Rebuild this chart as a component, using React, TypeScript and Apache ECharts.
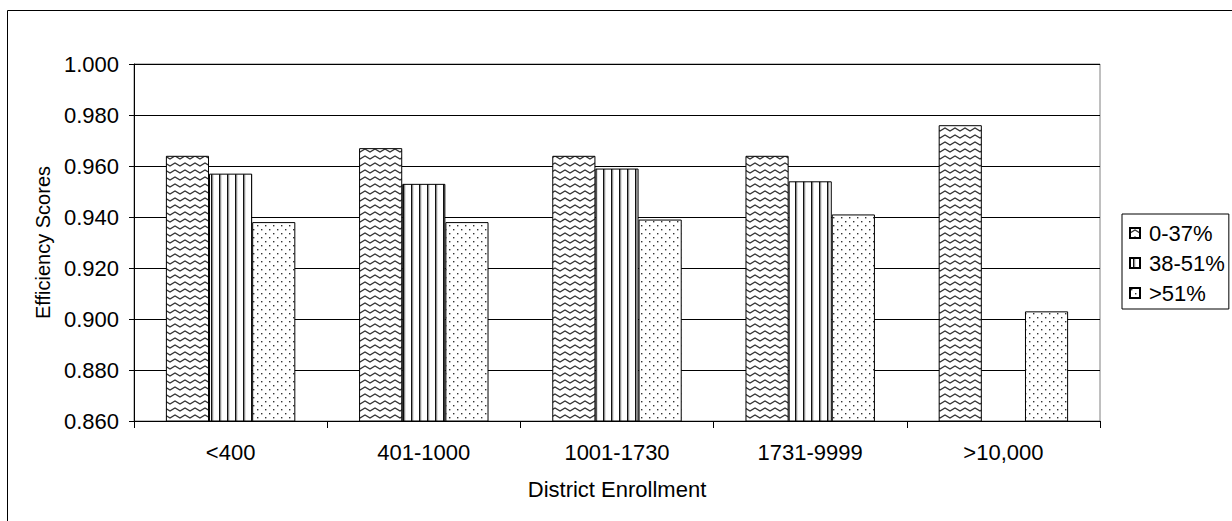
import React, { useEffect, useRef } from "react";
import * as echarts from "echarts";

const categories = ["<400", "401-1000", "1001-1730", "1731-9999", ">10,000"];
const seriesNames = ["0-37%", "38-51%", ">51%"];
const low = [0.964, 0.967, 0.964, 0.964, 0.976];
const mid: (number | null)[] = [0.957, 0.953, 0.959, 0.954, null];
const high = [0.938, 0.938, 0.939, 0.941, 0.903];
const yTicks = { min: 0.86, max: 1.0, interval: 0.02 };

const FONT = "'Liberation Sans', Arial, sans-serif";

function makeTile(w: number, h: number, draw: (ctx: CanvasRenderingContext2D) => void) {
  const c = document.createElement("canvas");
  c.width = w;
  c.height = h;
  const ctx = c.getContext("2d")!;
  ctx.fillStyle = "#ffffff";
  ctx.fillRect(0, 0, w, h);
  draw(ctx);
  return c;
}

function zigzag() {
  return makeTile(10, 7, (ctx) => {
    ctx.strokeStyle = "#333";
    ctx.lineWidth = 1.4;
    ctx.beginPath();
    ctx.moveTo(-5, 2);
    ctx.lineTo(0, 5);
    ctx.lineTo(5, 2);
    ctx.lineTo(10, 5);
    ctx.lineTo(15, 2);
    ctx.stroke();
  });
}

function stripes() {
  return makeTile(8, 8, (ctx) => {
    ctx.fillStyle = "#111";
    ctx.fillRect(3, 0, 1.5, 8);
    ctx.fillStyle = "#999";
    ctx.fillRect(4.5, 0, 0.8, 8);
  });
}

function dots() {
  return makeTile(8, 8, (ctx) => {
    ctx.fillStyle = "#333";
    ctx.fillRect(1, 1, 1.4, 1.4);
    ctx.fillRect(5, 5, 1.4, 1.4);
  });
}

export default function App() {
  const ref = useRef<HTMLDivElement>(null);
  useEffect(() => {
    if (!ref.current) return;
    const chart = echarts.init(ref.current, null, { renderer: "svg" });
    const patterns = [zigzag(), stripes(), dots()];
    const dataSets = [low, mid, high];
    const series = seriesNames.map((name, i) => ({
      name,
      type: "bar" as const,
      data: dataSets[i].map((v) => (v === null ? "-" : v)),
      barGap: "0%",
      barCategoryGap: "33%",
      itemStyle: {
        color: { image: patterns[i], repeat: "repeat" },
        borderColor: "#000",
        borderWidth: 1,
      },
    }));
    chart.setOption({
      animation: false,
      textStyle: { fontFamily: FONT, color: "#000" },
      graphic: [
        {
          type: "rect",
          shape: { x: 7.5, y: 10.5, width: 1300, height: 600 },
          style: { fill: "none", stroke: "#000", lineWidth: 1 },
          silent: true,
        },
      ],
      grid: {
        left: 134,
        top: 64,
        width: 966,
        height: 357,
        show: true,
        borderColor: "#808080",
        borderWidth: 1,
        backgroundColor: "transparent",
      },
      legend: {
        orient: "vertical",
        left: 1122,
        top: 214,
        padding: [8, 4, 5, 7],
        itemGap: 8,
        itemWidth: 10,
        itemHeight: 10,
        borderColor: "#000",
        borderWidth: 1,
        textStyle: { fontFamily: FONT, fontSize: 22, color: "#000", padding: [0, 0, 0, 4] },
        data: seriesNames.map((n) => ({ name: n, icon: "rect" })),
      },
      xAxis: {
        type: "category",
        data: categories,
        name: "District Enrollment",
        nameLocation: "middle",
        nameGap: 57,
        nameTextStyle: { fontFamily: FONT, fontSize: 22, color: "#000" },
        axisLine: { lineStyle: { color: "#000", width: 1 } },
        axisTick: { show: true, length: 7, lineStyle: { color: "#000" } },
        axisLabel: { fontFamily: FONT, fontSize: 22, color: "#000", margin: 20 },
        splitLine: { show: false },
      },
      yAxis: {
        type: "value",
        min: yTicks.min,
        max: yTicks.max,
        interval: yTicks.interval,
        name: "Efficiency Scores",
        nameLocation: "middle",
        nameGap: 78,
        nameRotate: 90,
        nameTextStyle: { fontFamily: FONT, fontSize: 20, color: "#000" },
        axisLine: { show: true, lineStyle: { color: "#000", width: 1 } },
        axisTick: { show: true, length: 5, lineStyle: { color: "#000" } },
        axisLabel: {
          fontFamily: FONT,
          fontSize: 22,
          color: "#000",
          margin: 15,
          formatter: (v: number) => v.toFixed(3),
        },
        splitLine: { show: true, lineStyle: { color: "#000", width: 1 } },
      },
      series,
    });
    return () => chart.dispose();
  }, []);
  return (
    <div
      ref={ref}
      style={{ position: "fixed", left: 0, top: 0, width: 1232, height: 521, background: "#fff" }}
    />
  );
}
